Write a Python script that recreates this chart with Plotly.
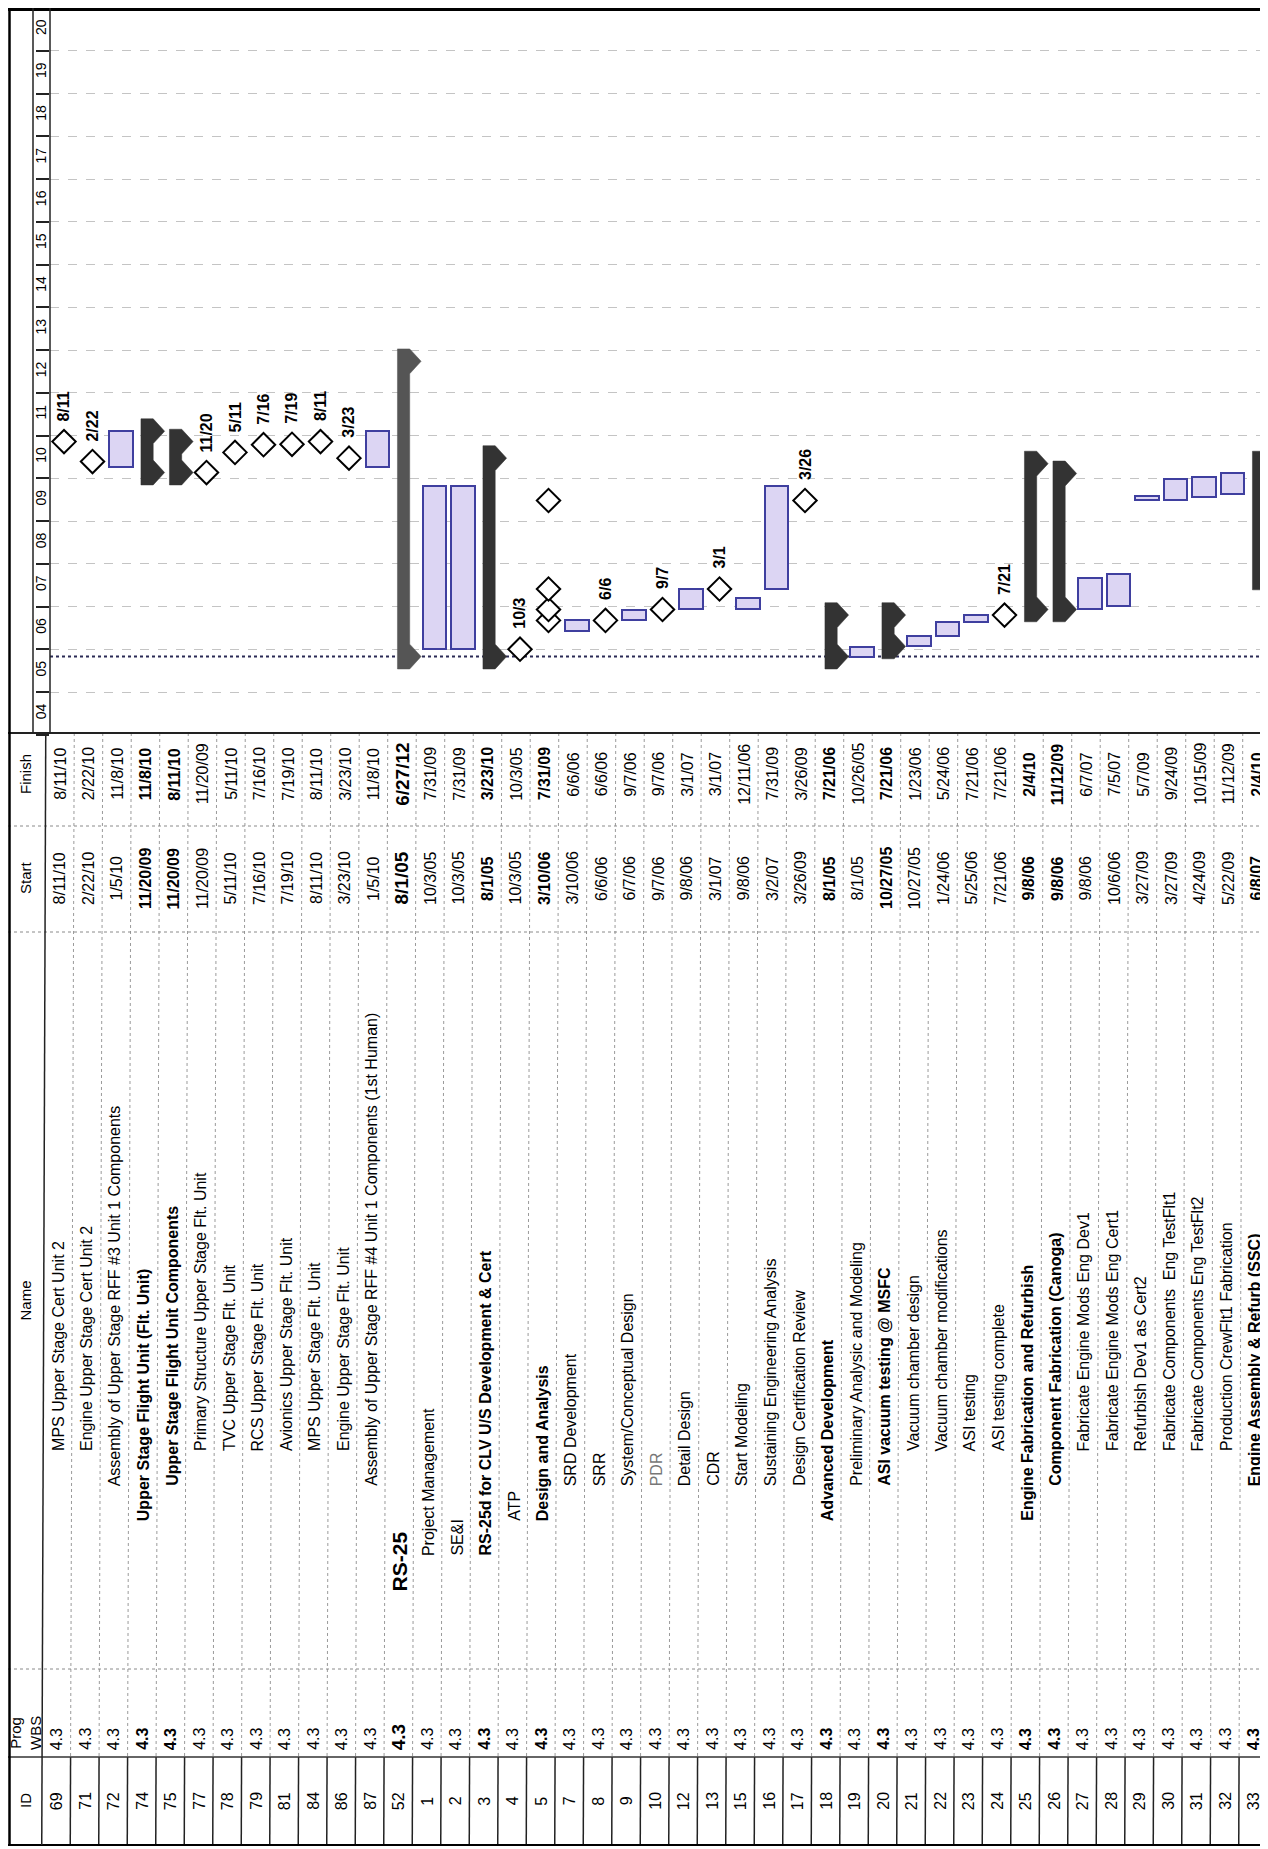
import plotly.graph_objects as go
import pandas as pd

# ---------------- data ----------------
ids = ["69", "71", "72", "74", "75", "77", "78", "79", "81", "84", "86", "87", "52",
       "1", "2", "3", "4", "5", "7", "8", "9", "10", "12", "13", "15", "16", "17", "18",
       "19", "20", "21", "22", "23", "24", "25", "26", "27", "28", "29", "30", "31", "32", "33"]

wbs = ["4.3", "4.3", "4.3", "4.3", "4.3", "4.3", "4.3", "4.3", "4.3", "4.3", "4.3", "4.3", "4.3",
       "4.3", "4.3", "4.3", "4.3", "4.3", "4.3", "4.3", "4.3", "4.3", "4.3", "4.3", "4.3", "4.3",
       "4.3", "4.3", "4.3", "4.3", "4.3", "4.3", "4.3", "4.3", "4.3", "4.3", "4.3", "4.3", "4.3",
       "4.3", "4.3", "4.3", "4.3"]

names = [
    "MPS Upper Stage Cert Unit 2",
    "Engine Upper Stage Cert Unit 2",
    "Assembly of Upper Stage RFF #3 Unit 1 Components",
    "Upper Stage Flight Unit (Flt. Unit)",
    "Upper Stage Flight Unit Components",
    "Primary Structure Upper Stage Flt. Unit",
    "TVC Upper Stage Flt. Unit",
    "RCS Upper Stage Flt. Unit",
    "Avionics Upper Stage Flt. Unit",
    "MPS Upper Stage Flt. Unit",
    "Engine Upper Stage Flt. Unit",
    "Assembly of Upper Stage RFF #4 Unit 1 Components (1st Human)",
    "RS-25",
    "Project Management",
    "SE&I",
    "RS-25d for CLV U/S Development & Cert",
    "ATP",
    "Design and Analysis",
    "SRD Development",
    "SRR",
    "System/Conceptual Design",
    "PDR",
    "Detail Design",
    "CDR",
    "Start Modeling",
    "Sustaining Engineering Analysis",
    "Design Certification Review",
    "Advanced Development",
    "Preliminary Analysic and Modeling",
    "ASI vacuum testing @ MSFC",
    "Vacuum chamber design",
    "Vacuum chamber modifications",
    "ASI testing",
    "ASI testing complete",
    "Engine Fabrication and Refurbish",
    "Component Fabrication (Canoga)",
    "Fabricate Engine Mods Eng Dev1",
    "Fabricate Engine Mods Eng Cert1",
    "Refurbish Dev1 as Cert2",
    "Fabricate Components  Eng TestFlt1",
    "Fabricate Components Eng TestFlt2",
    "Production CrewFlt1 Fabrication",
    "Engine Assembly & Refurb (SSC)",
]

outline_level = [4, 4, 3, 2, 3, 4, 4, 4, 4, 4, 4, 3, 0,
                 1, 1, 1, 2, 2, 3, 3, 3, 3, 3, 3, 3, 3, 3, 2,
                 3, 3, 4, 4, 4, 4, 2, 3, 4, 4, 4, 4, 4, 4, 3]

starts = ["8/11/10", "2/22/10", "1/5/10", "11/20/09", "11/20/09", "11/20/09", "5/11/10", "7/16/10",
          "7/19/10", "8/11/10", "3/23/10", "1/5/10", "8/1/05",
          "10/3/05", "10/3/05", "8/1/05", "10/3/05", "3/10/06", "3/10/06", "6/6/06", "6/7/06",
          "9/7/06", "9/8/06", "3/1/07", "9/8/06", "3/2/07", "3/26/09", "8/1/05",
          "8/1/05", "10/27/05", "10/27/05", "1/24/06", "5/25/06", "7/21/06", "9/8/06", "9/8/06",
          "9/8/06", "10/6/06", "3/27/09", "3/27/09", "4/24/09", "5/22/09", "6/8/07"]

finishes = ["8/11/10", "2/22/10", "11/8/10", "11/8/10", "8/11/10", "11/20/09", "5/11/10", "7/16/10",
            "7/19/10", "8/11/10", "3/23/10", "11/8/10", "6/27/12",
            "7/31/09", "7/31/09", "3/23/10", "10/3/05", "7/31/09", "6/6/06", "6/6/06", "9/7/06",
            "9/7/06", "3/1/07", "3/1/07", "12/11/06", "7/31/09", "3/26/09", "7/21/06",
            "10/26/05", "7/21/06", "1/23/06", "5/24/06", "7/21/06", "7/21/06", "2/4/10", "11/12/09",
            "6/7/07", "7/5/07", "5/7/09", "9/24/09", "10/15/09", "11/12/09", "2/4/10"]

# T = task, M = milestone, S = summary, P = project summary, R = summary shown as rolled-up milestones
kinds = ["M", "M", "T", "S", "S", "M", "M", "M", "M", "M", "M", "T", "P",
         "T", "T", "S", "M", "R", "T", "M", "T", "M", "T", "M", "T", "T", "M", "S",
         "T", "S", "T", "T", "T", "M", "S", "S", "T", "T", "T", "T", "T", "T", "S"]

fy_labels = ["04", "05", "06", "07", "08", "09", "10", "11", "12", "13", "14", "15", "16",
             "17", "18", "19", "20"]
fy_years = [2004, 2005, 2006, 2007, 2008, 2009, 2010, 2011, 2012, 2013, 2014, 2015, 2016,
            2017, 2018, 2019, 2020]
project_start = "8/1/05"

# ---------------- layout constants (screen pixels) ----------------
SCREEN_W, SCREEN_H = 1268, 1849
OFF = 8                              # default page body margin
WF, HF = SCREEN_W - OFF, SCREEN_H - OFF
PLOT_L = 50                          # screen x of chart left edge
ML = PLOT_L - OFF
PW = WF - ML
ROW_PX = 28.5
ROW0 = 64                            # screen x of first chart row centre
CHART_TOP, CHART_BOT = 8, 735
TABLE_TOP = 733
SEP_FS, SEP_SN, SEP_NW, SEP_WI, TABLE_BOT = 826, 932, 1669, 1757, 1845
FIN_C, START_C, ID_C, WBS_B = 774, 878, 1801, 1752
NAME_L0, INDENT = 1593, 35
SKEW_TOP, SKEW_BOT = -4, -8          # table text offset (px) vs chart rows (scan skew)

FONT = "Liberation Sans, Arial, Helvetica, sans-serif"
BAR_FILL, BAR_LINE = "#dcd5f3", "#3f3f9f"
SUM_COL, PROJ_COL = "#333333", "#555555"
CAP_DAYS = 106


def py(p):
    return 1 - (p - OFF) / HF


def px_(p):
    return (p - OFF - ML) / PW


def skew(y):
    return SKEW_TOP + (SKEW_BOT - SKEW_TOP) * (y - TABLE_TOP) / (TABLE_BOT - TABLE_TOP)


def esc(s):
    return s.replace("&", "&amp;")


n = len(ids)
idx = list(range(n))
sd = pd.to_datetime(pd.Series(starts), format="%m/%d/%y")
fd = pd.to_datetime(pd.Series(finishes), format="%m/%d/%y")
x_min = -(ROW0 - PLOT_L) / ROW_PX
x_max = x_min + PW / ROW_PX

fig = go.Figure()

# ---- task bars ----
tb = [i for i in idx if kinds[i] == "T"]
fig.add_trace(go.Bar(
    x=tb,
    base=[sd[i].strftime("%Y-%m-%d") for i in tb],
    y=[(fd[i] - sd[i]).total_seconds() * 1000 for i in tb],
    width=0.84,
    marker=dict(color=BAR_FILL, line=dict(color=BAR_LINE, width=2)),
    showlegend=False, hoverinfo="skip",
))

# ---- summary bars with end caps ----
cap = pd.Timedelta(days=CAP_DAYS)
for i in idx:
    if kinds[i] not in ("S", "P"):
        continue
    s, e = sd[i], fd[i]
    L, R, A = i - 0.30, i + 0.13, i + 0.53
    xs = [L, R, A, R, R, A, R, L, L]
    ys = [s - cap, s - cap, s, s + cap, e - cap, e, e + cap, e + cap, s - cap]
    col = PROJ_COL if kinds[i] == "P" else SUM_COL
    fig.add_trace(go.Scatter(
        x=xs, y=[v.strftime("%Y-%m-%d %H:%M") for v in ys],
        mode="lines", fill="toself", fillcolor=col, line=dict(width=0.5, color=col),
        showlegend=False, hoverinfo="skip",
    ))

# ---- milestones ----
ms = [i for i in idx if kinds[i] == "M"]
mx = list(ms)
my = [fd[i].strftime("%Y-%m-%d") for i in ms]
for i in idx:                      # rolled-up child milestones on parent row
    if kinds[i] != "R":
        continue
    j = i + 1
    while j < n and outline_level[j] > outline_level[i]:
        if kinds[j] == "M":
            mx.append(i)
            my.append(fd[j].strftime("%Y-%m-%d"))
        j += 1
fig.add_trace(go.Scatter(
    x=mx, y=my, mode="markers",
    marker=dict(symbol="diamond", size=18, color="white", line=dict(color="black", width=2)),
    showlegend=False, hoverinfo="skip",
))

annotations = []
for i in ms:
    lab = "/".join(finishes[i].split("/")[:2])
    annotations.append(dict(
        x=i, y=fd[i].strftime("%Y-%m-%d"), xref="x", yref="y",
        text="<b>%s</b>" % lab, textangle=-90, showarrow=False,
        xanchor="center", yanchor="bottom", yshift=18,
        font=dict(family=FONT, size=16, color="black"),
    ))

# ---- table text ----
for i in idx:
    bold = kinds[i] in ("S", "P", "R")
    big = kinds[i] == "P"

    def fmt(t):
        return "<b>%s</b>" % esc(t) if bold else esc(t)

    name_y = NAME_L0 - INDENT * outline_level[i]
    name_color = "#777777" if ids[i] == "10" else "black"
    annotations.append(dict(
        x=i, y=py(name_y), xref="x", yref="paper",
        text=fmt(names[i]), textangle=-90, showarrow=False, xanchor="center", yanchor="bottom",
        xshift=skew(name_y - 150), font=dict(family=FONT, size=21 if big else 16, color=name_color),
    ))
    for txt, yc in ((finishes[i], FIN_C), (starts[i], START_C)):
        annotations.append(dict(
            x=i, y=py(yc), xref="x", yref="paper", text=fmt(txt), textangle=-90,
            showarrow=False, xanchor="center", yanchor="middle", xshift=skew(yc),
            font=dict(family=FONT, size=19 if big else 16, color="black"),
        ))
    annotations.append(dict(
        x=i, y=py(WBS_B), xref="x", yref="paper", text=fmt(wbs[i]), textangle=-90,
        showarrow=False, xanchor="center", yanchor="bottom", xshift=skew(WBS_B),
        font=dict(family=FONT, size=19 if big else 16, color="black"),
    ))
    annotations.append(dict(
        x=i, y=py(ID_C), xref="x", yref="paper", text=ids[i], textangle=-90,
        showarrow=False, xanchor="center", yanchor="middle", xshift=skew(ID_C),
        font=dict(family=FONT, size=16, color="black"),
    ))

# headers
for txt, yc, anc in (("Finish", FIN_C, "middle"), ("Start", START_C, "middle"),
                     ("Name", (SEP_SN + SEP_NW) / 2, "middle"),
                     ("Prog<br>WBS", WBS_B, "bottom"), ("ID", ID_C, "middle")):
    annotations.append(dict(
        x=px_(25), y=py(yc), xref="paper", yref="paper", text=txt, textangle=-90,
        showarrow=False, xanchor="center", yanchor=anc,
        font=dict(family=FONT, size=15, color="black"),
    ))

# ---- lines ----
shapes = []


def seg(x0, y0, x1, y1, color, width, dash="solid"):
    shapes.append(dict(type="line", xref="paper", yref="paper", x0=px_(x0), x1=px_(x1),
                       y0=py(y0), y1=py(y1), line=dict(color=color, width=width, dash=dash)))


# project start line
ps = sd[starts.index(project_start)].strftime("%Y-%m-%d")
shapes.append(dict(type="line", xref="paper", yref="y", x0=0, x1=1, y0=ps, y1=ps,
                   line=dict(color="#2a2a55", width=2, dash="dot"), layer="below"))

# row separators in table (follow the slight skew of the scan)
for k in range(1, n):
    xr = k - 0.5
    for y0, y1, col, wdt, dsh in ((TABLE_TOP, SEP_WI, "#9a9a9a", 1, "dot"),
                                  (SEP_WI, TABLE_BOT, "#222222", 1.5, "solid")):
        shapes.append(dict(type="line", xref="x", yref="paper",
                           x0=xr + skew(y0) / ROW_PX, x1=xr + skew(y1) / ROW_PX,
                           y0=py(y0), y1=py(y1), line=dict(color=col, width=wdt, dash=dsh)))

first_sep = ROW0 - ROW_PX / 2
seg(OFF, OFF + 1.5, SCREEN_W, OFF + 1.5, "black", 3)
seg(OFF, TABLE_TOP, SCREEN_W, TABLE_TOP, "#222222", 2)
seg(OFF, SEP_FS, SCREEN_W, SEP_FS, "#8a8a8a", 1, "dot")
seg(OFF, SEP_SN, SCREEN_W, SEP_SN, "#8a8a8a", 1, "dot")
seg(OFF, SEP_NW, SCREEN_W, SEP_NW, "#8a8a8a", 1, "dot")
seg(OFF, SEP_WI, SCREEN_W, SEP_WI, "#333333", 1.5)
seg(OFF, TABLE_BOT, SCREEN_W, TABLE_BOT, "black", 2)
seg(OFF + 1.5, OFF, OFF + 1.5, TABLE_BOT, "black", 2.5)
seg(33, OFF, 33, TABLE_TOP, "#222222", 1.5)
seg(PLOT_L, OFF, PLOT_L, TABLE_TOP, "#222222", 1.5)
seg(first_sep + skew(TABLE_TOP), TABLE_TOP, first_sep + skew(TABLE_BOT), TABLE_BOT, "#222222", 1.5)

fig.update_layout(
    width=WF, height=HF,
    margin=dict(l=ML, r=0, t=0, b=0),
    paper_bgcolor="white", plot_bgcolor="white",
    showlegend=False, bargap=0,
    annotations=annotations, shapes=shapes,
    xaxis=dict(range=[x_min, x_max], showgrid=False, zeroline=False, showticklabels=False,
               showline=False, ticks="", fixedrange=True),
    yaxis=dict(
        type="date", domain=[py(CHART_BOT), min(1, py(CHART_TOP))],
        range=["2003-10-01", "2020-10-01"],
        tickvals=["%d-04-01" % y for y in fy_years], ticktext=fy_labels,
        tickangle=-90, tickfont=dict(family=FONT, size=14, color="black"),
        showgrid=False, zeroline=False, showline=False, ticks="",
        minor=dict(tickvals=["%d-10-01" % (y - 1) for y in fy_years] + ["2020-10-01"],
                   showgrid=True, gridcolor="#c4c4c4", griddash="dash", gridwidth=1,
                   ticks="outside", ticklen=13, tickcolor="#222222", tickwidth=1.5),
    ),
)

fig.write_html("out.html")
